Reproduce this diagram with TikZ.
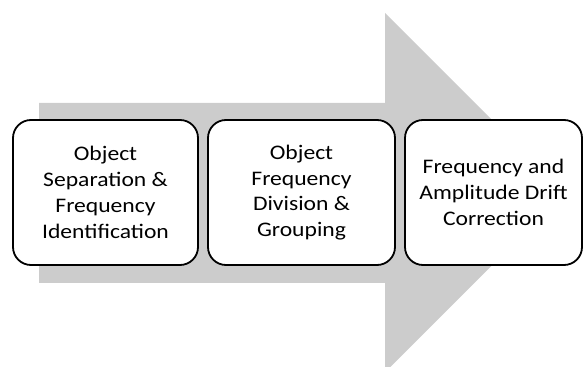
\documentclass[tikz,border=0pt]{standalone}
\usepackage{fontspec}
\setmainfont{Carlito}[FakeStretch=1.14]
\tikzset{
  stage/.style={draw=black, line width=1.8pt, fill=white, rounded corners=18pt,
    minimum height=145pt, inner sep=0pt, align=center,
    font=\fontsize{20.7}{25.8}\selectfont},
}
\begin{document}
\begin{tikzpicture}[x=1pt,y=1pt]
		\useasboundingbox (0,0) rectangle (584,367);
		\clip (0,0) rectangle (584,367);
		%Big Arrow
		\fill[gray!40] (39,84)--(385,84)--(385,-5.4)--(564.7,174.3)--(385,354)--(385,264)--(39,264)--cycle;
		%Stages
		\node[stage, minimum width=185pt] (sep) at (105.5,174.5) {Object\\Separation \&\\Frequency\\Identification};
		\node[stage, minimum width=187pt] (grp) at (301.5,174.5) {Object\\Frequency\\Division \&\\Grouping};
		\node[stage, minimum width=177pt] (drift) at (493.5,174.5) {Frequency and\\Amplitude Drift\\Correction};
\end{tikzpicture}
\end{document}
